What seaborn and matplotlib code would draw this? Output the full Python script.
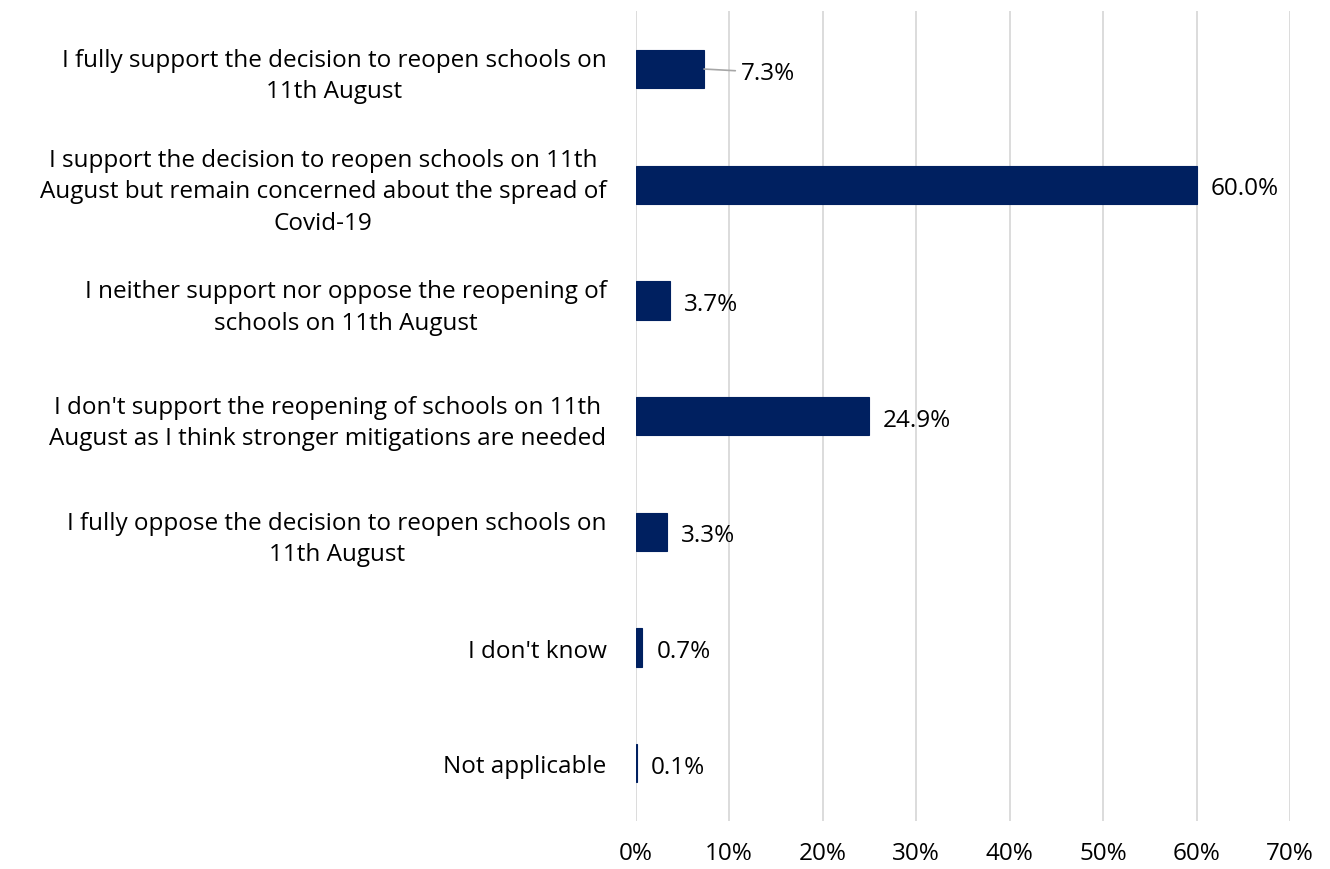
import matplotlib
matplotlib.use("Agg")
import matplotlib.pyplot as plt
import seaborn as sns
import pandas as pd

categories = [
    "I fully support the decision to reopen schools on\n11th August",
    "I support the decision to reopen schools on 11th\nAugust but remain concerned about the spread of\nCovid-19",
    "I neither support nor oppose the reopening of\nschools on 11th August",
    "I don't support the reopening of schools on 11th\nAugust as I think stronger mitigations are needed",
    "I fully oppose the decision to reopen schools on\n11th August",
    "I don't know",
    "Not applicable",
]
values = [7.3, 60.0, 3.7, 24.9, 3.3, 0.7, 0.1]
x_ticks = [0, 10, 20, 30, 40, 50, 60, 70]

BAR_COLOR = "#002060"
FS = 17.5

sns.set_theme(style="white")
plt.rcParams['font.family'] = ['Open Sans', 'DejaVu Sans']

df = pd.DataFrame({"category": categories, "value": values})

fig = plt.figure(figsize=(13.3, 8.7), dpi=100)
ax = fig.add_axes([0.478, 0.055, 0.492, 0.931])

sns.barplot(data=df, x="value", y="category", color=BAR_COLOR,
            width=0.33, saturation=1, edgecolor=BAR_COLOR, linewidth=0.8, ax=ax)

ax.set_xlim(0, 70)
ax.set_xticks(x_ticks)
ax.set_xticklabels([f"{t}%" for t in x_ticks], fontsize=FS, color="#000000")
ax.tick_params(axis="y", labelsize=FS, length=0, pad=21, labelcolor="#000000")
ax.tick_params(axis="x", length=0, pad=14)
for lab in ax.get_yticklabels():
    lab.set_horizontalalignment("right")
    lab.set_multialignment("center")
    lab.set_linespacing(1.4)
ax.set_xlabel("")
ax.set_ylabel("")
ax.xaxis.grid(True, color="#d9d9d9", linewidth=1.3)
ax.set_axisbelow(True)
for s in ax.spines.values():
    s.set_visible(False)

# value labels
for i, v in enumerate(values):
    if i == 0:
        ax.annotate(f"{v:.1f}%", xy=(v, i), xytext=(v + 4.0, i + 0.03),
                    va="center", ha="left", fontsize=FS, color="#000000",
                    arrowprops=dict(arrowstyle="-", color="#a6a6a6", lw=1.2,
                                    shrinkA=2, shrinkB=0))
    else:
        ax.text(v + 1.5, i + 0.03, f"{v:.1f}%", va="center", ha="left",
                fontsize=FS, color="#000000")

fig.savefig("out.png", dpi=100)
